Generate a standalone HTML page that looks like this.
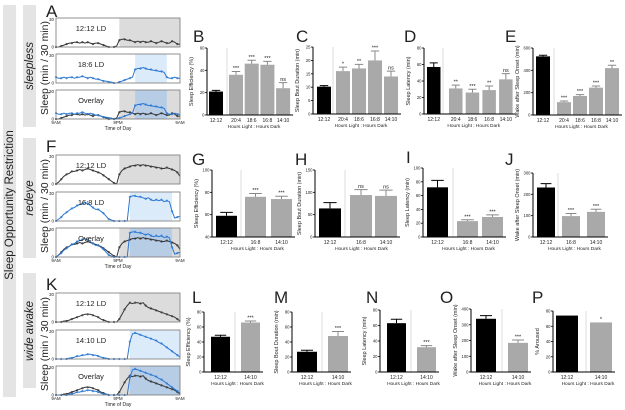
<!DOCTYPE html>
<html><head><meta charset="utf-8">
<style>
html,body{margin:0;padding:0;background:#fff;}
svg{display:block;font-family:"Liberation Sans",sans-serif;}
</style></head>
<body>
<svg id="fig" width="625" height="410" viewBox="0 0 625 410" xmlns="http://www.w3.org/2000/svg">
<rect x="3" y="5" width="13" height="392" fill="#e4e4e4"/>
<text transform="translate(13,205) rotate(-90)" text-anchor="middle" font-size="11.5" fill="#222">Sleep Opportunity Restriction</text>
<rect x="23" y="5" width="13" height="122" fill="#e4e4e4"/>
<text transform="translate(33,66) rotate(-90)" text-anchor="middle" font-size="11.5" font-style="italic" fill="#222">sleepless</text>
<rect x="23" y="138" width="13" height="120" fill="#e4e4e4"/>
<text transform="translate(33,198) rotate(-90)" text-anchor="middle" font-size="11.5" font-style="italic" fill="#222">redeye</text>
<rect x="23" y="273" width="13" height="115" fill="#e4e4e4"/>
<text transform="translate(33,331) rotate(-90)" text-anchor="middle" font-size="11.5" font-style="italic" fill="#222">wide awake</text>
</svg>
<script>
// ---------- line panel data (48 half-hour bins starting 9AM) ----------
const sleeplessLD1212 = [0,0,1,2,3,4,4,5,5,4,5,4,5,4,3,4,4,3,2,1,0,0,0,1,7,8,8,7,7,6,5,6,5,6,5,5,6,5,4,5,6,5,4,4,6,5,3,3];
const sleeplessLD186 = [6,5,5,6,5,6,6,5,6,6,7,6,5,6,5,4,4,3,2,2,1,1,0,0,1,2,3,4,5,6,14,15,15,16,15,14,14,13,13,12,12,11,6,5,5,6,5,5];
const redeyeLD1212 = [0,2,5,8,10,11,13,13,14,15,14,15,16,15,14,13,12,11,9,7,5,3,1,0,10,14,16,17,18,19,19,20,19,20,19,19,18,18,17,17,16,16,17,16,15,14,12,8];
const redeyeLD168 = [0,2,4,7,9,11,13,14,16,17,18,19,18,16,14,12,12,10,8,5,2,1,0,0,0,0,0,0,25,26,26,25,25,24,23,24,22,21,22,21,22,20,21,20,10,3,4,5];
const wideLD1212 = [0,0,0,1,1,2,3,4,5,6,7,8,8,8,7,6,5,3,2,1,0,0,0,0,3,8,13,17,20,19,20,20,19,20,17,15,14,13,12,11,10,9,8,7,6,5,3,1];
const wideLD1410 = [0,0,0,0,0,1,1,2,3,3,4,4,5,5,4,4,3,2,1,1,0,0,0,0,0,0,0,0,18,26,27,26,25,24,23,22,21,20,19,17,16,14,12,10,8,6,4,2];
const darkLD1212 = [24,48];
const darkLD186 = [30,42];
const darkLD168 = [28,44];
const darkLD1410 = [28,47];

// ---------- bar panel data ----------
const groupsB = ["12:12","20:4","18:6","16:8","14:10"];
const valsB = [21,36,46,45,24]; const errB = [1,3,3,3,5]; const sigB = ["","***","***","***","ns"];
const valsC = [10.2,16,17,20,14]; const errC = [0.4,1.5,1.5,3.5,2]; const sigC = ["","*","**","***","ns"];
const valsD = [57,31,26,29,42]; const errD = [5,4,4,5,7]; const sigD = ["","**","***","**","ns"];
const valsE = [525,115,170,245,420]; const errE = [10,10,12,15,25]; const sigE = ["","***","***","***","**"];
const groupsG = ["12:12","16:8","14:10"];
const valsG = [59,76,74]; const errG = [3,3,2.5]; const sigG = ["","***","***"];
const valsH = [64,94,92]; const errH = [13,12,13]; const sigH = ["","ns","ns"];
const valsI = [72,23,29]; const errI = [10,2,3]; const sigI = ["","***","***"];
const valsJ = [232,98,118]; const errJ = [18,12,12]; const sigJ = ["","***","***"];
const groupsL = ["12:12","14:10"];
const valsL = [47,66]; const errL = [2,2]; const sigL = ["","***"];
const valsM = [27,48]; const errM = [2,6]; const sigM = ["","***"];
const valsN = [63,32]; const errN = [5,2]; const sigN = ["","***"];
const valsO = [338,185]; const errO = [20,18]; const sigO = ["","***"];
const valsP = [74,65]; const errP = [0,0]; const sigP = ["","*"];
const ticksB = [0,20,40,60], ticksC = [0,5,10,15,20,25], ticksD = [0,20,40,60,80], ticksE = [0,200,400,600];
const ticksG = [40,60,80,100], ticksH = [0,50,100,150], ticksI = [0,20,40,60,80,100], ticksJ = [0,100,200,300];
const ticks80 = [0,20,40,60,80], ticksO = [0,100,200,300,400];

const NS = "http://www.w3.org/2000/svg";
const svg = document.getElementById('fig');
function mk(tag, attrs, parent){
  const e = document.createElementNS(NS, tag);
  for (const k in attrs) e.setAttribute(k, attrs[k]);
  (parent||svg).appendChild(e); return e;
}
function txt(x,y,s,size,extra,parent){
  const t = mk('text', Object.assign({x:x,y:y,'font-size':size,fill:'#222'}, extra||{}), parent);
  t.textContent = s; return t;
}

const BLK = "#333", BLUE = "#2a76d2";
function linePanel(name, x0, y0, w, h, label, shades, series){
  const g = mk('g', {});
  
  
  const xs = i => x0 + i/47*w;
  const ys = v => y0 + h - v/30*h;
  shades.forEach(s=>{
    const r = mk('rect', {x:xs(s.r[0]), y:y0, width:Math.min(xs(s.r[1]), x0+w)-xs(s.r[0]), height:h, fill:s.c}, g);
    
    
  });
  series.forEach(s=>{
    const pts = s.d.map((v,i)=>xs(i).toFixed(1)+','+ys(v).toFixed(1)).join(' ');
    const pl = mk('polyline', {points:pts, fill:'none', stroke:s.c, 'stroke-width':1}, g);
    
    
    s.d.forEach((v,i)=>{ if(i%2==0){
      const c = mk('circle',{cx:xs(i),cy:ys(v),r:0.9,fill:'none',stroke:s.c,'stroke-width':0.5},g);
      
      
    }});
  });
  const b = mk('rect', {x:x0, y:y0, width:w, height:h, fill:'none', stroke:'#777', 'stroke-width':0.8}, g);
  
  
  const t30 = txt(x0-2, y0+3, '30', 4.5, {'text-anchor':'end'}, g);
  
  
  const t0 = txt(x0-2, y0+h+1.5, '0', 4.5, {'text-anchor':'end'}, g);
  
  
  const lt = txt(x0+35, y0+13, label, 7.5, {'text-anchor':'middle'}, g);
  
  
}
function timeAxis(x0, y, w){
  [['9AM',x0],['9PM',x0+w/2],['9AM',x0+w]].forEach(a=>{
    const t = txt(a[1], y+5, a[0], 4.5, {'text-anchor':'middle'});
    
    
  });
  const t = txt(x0+w/2, y+11, 'Time of Day', 5, {'text-anchor':'middle'});
  
  
}
const GR = "#dcdcdc", LB = "#dcebfa", OB = "#b7cde6";
function block(letter, ly, tops, lblB, dark2, blackD, blueD, ylabY){
  const X0=56, W=124, H=tops[3];
  const L = txt(46, ly, letter, 17, {});
  
  
  linePanel('actogram-1212-'+letter.toLowerCase(), X0, tops[0], W, H, '12:12 LD', [{r:darkLD1212,c:GR}], [{d:blackD,c:BLK,n:'sleep-line-1212'}]);
  linePanel('actogram-restricted-'+letter.toLowerCase(), X0, tops[1], W, H, lblB, [{r:dark2,c:LB}], [{d:blueD,c:BLUE,n:'sleep-line-restricted'}]);
  linePanel('actogram-overlay-'+letter.toLowerCase(), X0, tops[2], W, H, 'Overlay', [{r:darkLD1212,c:GR},{r:dark2,c:OB}], [{d:blackD,c:BLK,n:'sleep-line-1212'},{d:blueD,c:BLUE,n:'sleep-line-restricted'}]);
  timeAxis(X0, tops[2]+H, W);
  const yl = txt(0,0,'Sleep (min / 30 min)', 10.5, {'text-anchor':'middle', transform:'translate(48,'+ylabY+') rotate(-90)'});
  
  
}
block('A', 17, [18,54,90,29], '18:6 LD', darkLD186, sleeplessLD1212, sleeplessLD186, 68);
block('F', 152, [155,192,228,29], '16:8 LD', darkLD168, redeyeLD1212, redeyeLD168, 206);
block('K', 290, [293,330,366,29], '14:10 LD', darkLD1410, wideLD1212, wideLD1410, 344);

function barPanel(cfg){
  const g = mk('g', {});
  
  
  const ticks = cfg.ticks, lo = ticks[0], hi = ticks[ticks.length-1];
  const ys = v => cfg.bot - (v-lo)/(hi-lo)*(cfg.bot-cfg.top);
  const L = txt(cfg.lx, cfg.ly, cfg.letter, 17, {}, g);
  
  
  const n = cfg.vals.length;
  const bx = i => i==0 ? cfg.first : cfg.gstart + (i-1)*cfg.pitch;
  const xEnd = bx(n-1) + cfg.bw + 3;
  const sep = mk('line',{x1:cfg.sep,x2:cfg.sep,y1:cfg.top,y2:cfg.bot,stroke:'#ddd','stroke-width':1},g);
  
  
  cfg.vals.forEach((v,i)=>{
    const x = bx(i), y = ys(v);
    const r = mk('rect',{x:x,y:y,width:cfg.bw,height:cfg.bot-y,fill:i==0?'#000':'#a9a9a9'},g);
    
    
    const e = cfg.err[i];
    if (e>0){
      const ye = ys(v+e), cx = x+cfg.bw/2;
      const el = mk('path',{d:`M${cx},${y}V${ye}M${cx-cfg.bw*0.3},${ye}H${cx+cfg.bw*0.3}`,stroke:i==0?'#000':'#888','stroke-width':1,fill:'none'},g);
      
      
    }
    if (cfg.sig[i]){
      const s = txt(x+cfg.bw/2, ys(v+e)-1.5, cfg.sig[i], 5.5, {'text-anchor':'middle'}, g);
      
      
    }
    const tl = txt(x+cfg.bw/2, cfg.bot+7, cfg.groups[i], 5, {'text-anchor':'middle'}, g);
    
    
  });
  const ax = mk('path',{d:`M${cfg.ax},${cfg.top}V${cfg.bot}H${xEnd}`,stroke:'#000','stroke-width':1,fill:'none'},g);
  
  
  ticks.forEach(t=>{
    const y = ys(t);
    const tk = mk('line',{x1:cfg.ax-2,x2:cfg.ax,y1:y,y2:y,stroke:'#000','stroke-width':0.8},g);
    
    
    const tl = txt(cfg.ax-2.5, y+1.5, String(t), 4.2, {'text-anchor':'end'}, g);
    
    
  });
  const xt = txt((cfg.ax+xEnd)/2+4, cfg.bot+13, 'Hours Light : Hours Dark', 4.8, {'text-anchor':'middle'}, g);
  
  
  const yt = txt(0,0,cfg.ylab,5.5,{'text-anchor':'middle',transform:`translate(${cfg.ax-14},${(cfg.top+cfg.bot)/2}) rotate(-90)`},g);
  
  
}
const SE="Sleep Efficiency (%)", SB="Sleep Bout Duration (min)", SL="Sleep Latency (min)", WA="Wake after Sleep Onset (min)";
barPanel({letter:'B',lx:193,ly:42,ax:207,top:48,bot:115,ticks:ticksB,groups:groupsB,vals:valsB,err:errB,sig:sigB,bw:14,first:209,sep:227,gstart:229,pitch:15.7,ylab:SE});
barPanel({letter:'C',lx:296,ly:42,ax:313,top:47,bot:114,ticks:ticksC,groups:groupsB,vals:valsC,err:errC,sig:sigC,bw:14,first:317,sep:333,gstart:336,pitch:16,ylab:SB});
barPanel({letter:'D',lx:404,ly:42,ax:424,top:48,bot:114,ticks:ticksD,groups:groupsB,vals:valsD,err:errD,sig:sigD,bw:13.5,first:427,sep:443,gstart:449,pitch:16.7,ylab:SL});
barPanel({letter:'E',lx:505,ly:42,ax:533,top:48,bot:115,ticks:ticksE,groups:groupsB,vals:valsE,err:errE,sig:sigE,bw:14,first:536,sep:554,gstart:557,pitch:16,ylab:WA});
barPanel({letter:'G',lx:192,ly:165,ax:212,top:170,bot:237,ticks:ticksG,groups:groupsG,vals:valsG,err:errG,sig:sigG,bw:21,first:216,sep:241,gstart:245,pitch:26,ylab:SE});
barPanel({letter:'H',lx:295,ly:165,ax:315,top:170,bot:237,ticks:ticksH,groups:groupsG,vals:valsH,err:errH,sig:sigH,bw:22,first:319,sep:345,gstart:350,pitch:25,ylab:SB});
barPanel({letter:'I',lx:406,ly:163,ax:423,top:168,bot:237,ticks:ticksI,groups:groupsG,vals:valsI,err:errI,sig:sigI,bw:21,first:427,sep:453,gstart:457,pitch:25,ylab:SL});
barPanel({letter:'J',lx:505,ly:165,ax:533,top:173,bot:237,ticks:ticksJ,groups:groupsG,vals:valsJ,err:errJ,sig:sigJ,bw:18,first:537,sep:558,gstart:562,pitch:25,ylab:WA});
barPanel({letter:'L',lx:192,ly:303,ax:204,top:312,bot:372,ticks:ticks80,groups:groupsL,vals:valsL,err:errL,sig:sigL,bw:19,first:211,sep:235,gstart:241,pitch:0,ylab:SE});
barPanel({letter:'M',lx:274,ly:303,ax:292,top:312,bot:372,ticks:ticks80,groups:groupsL,vals:valsM,err:errM,sig:sigM,bw:20,first:297,sep:322,gstart:328,pitch:0,ylab:SB});
barPanel({letter:'N',lx:366,ly:303,ax:380,top:310,bot:372,ticks:ticks80,groups:groupsL,vals:valsN,err:errN,sig:sigN,bw:19,first:387,sep:411,gstart:417,pitch:0,ylab:SL});
barPanel({letter:'O',lx:440,ly:303,ax:471,top:309,bot:372,ticks:ticksO,groups:groupsL,vals:valsO,err:errO,sig:sigO,bw:20,first:476,sep:502,gstart:508,pitch:0,ylab:WA});
barPanel({letter:'P',lx:532,ly:303,ax:553,top:311,bot:372,ticks:ticks80,groups:groupsL,vals:valsP,err:errP,sig:sigP,bw:22,first:556,sep:586,gstart:590,pitch:0,ylab:'% Aroused'});
</script>
</body></html>
